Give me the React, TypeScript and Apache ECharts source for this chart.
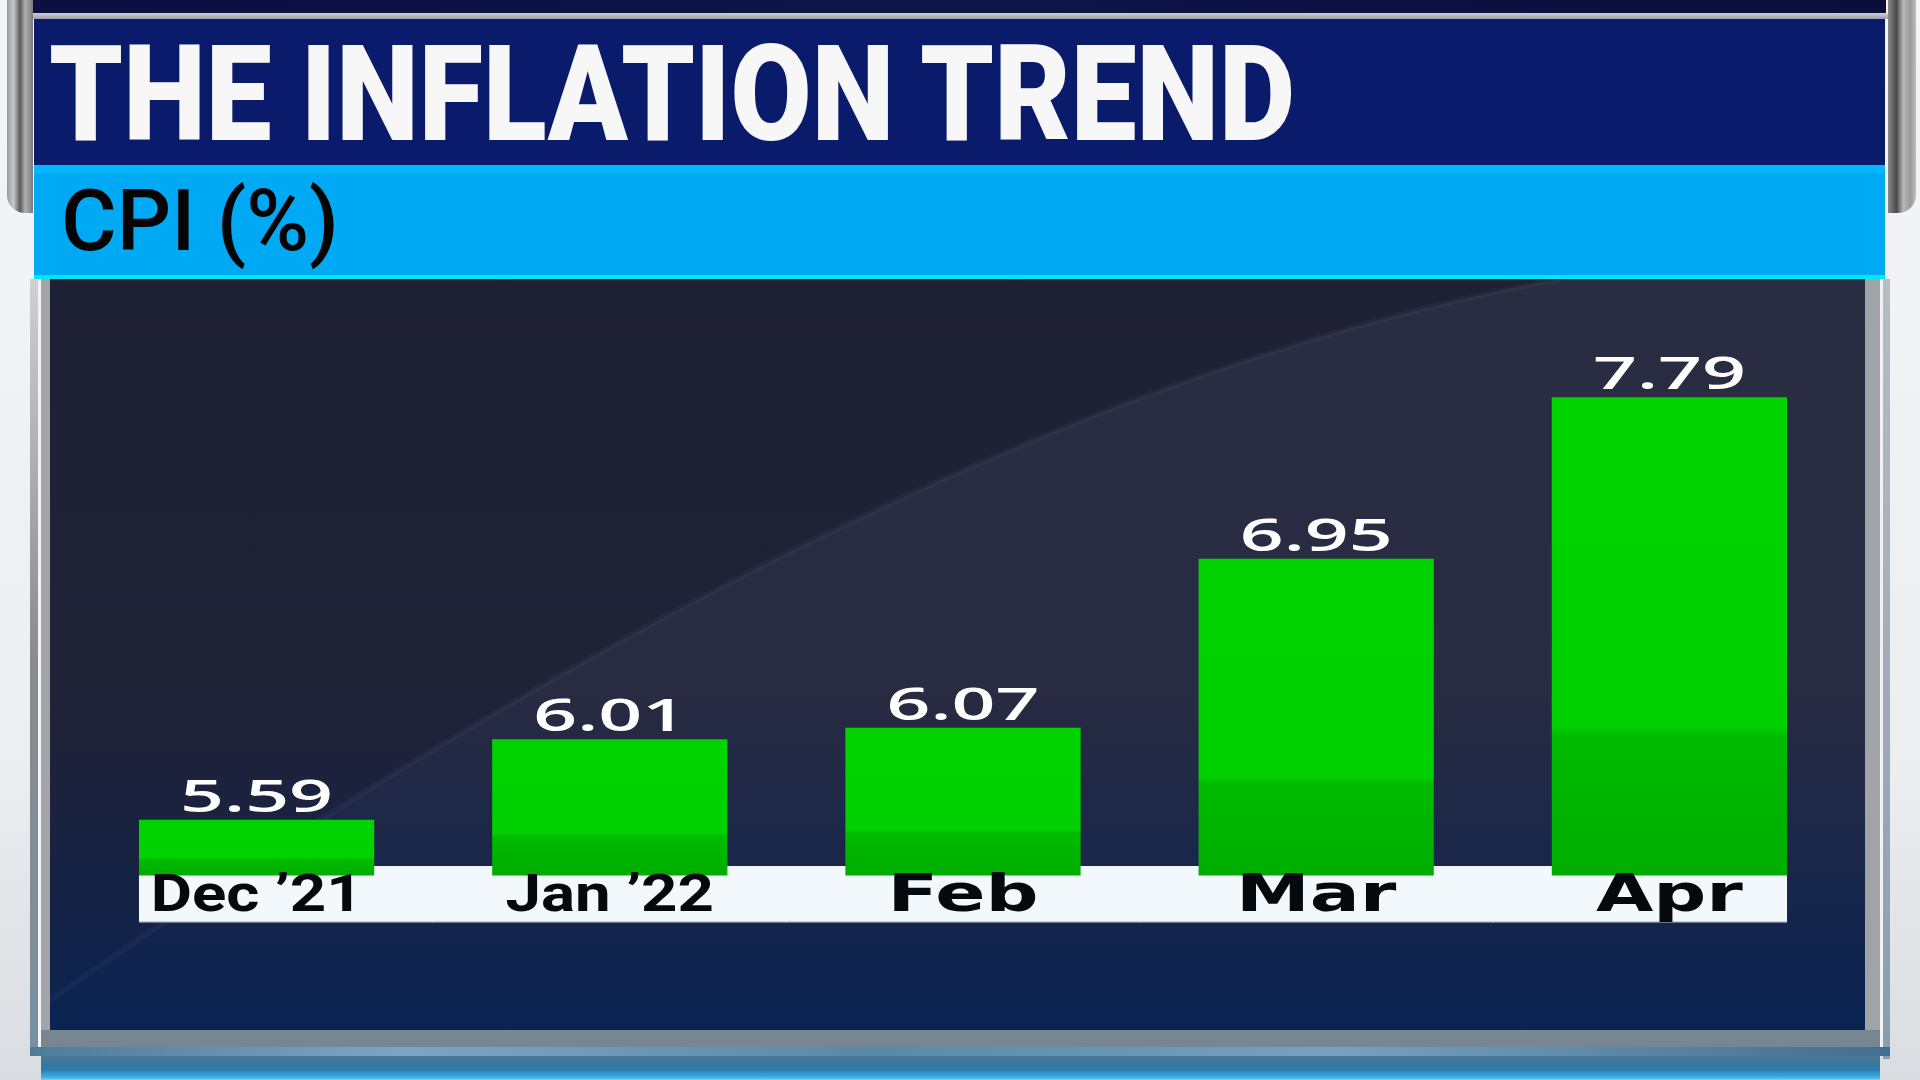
import React, { useEffect, useRef } from 'react';
import * as echarts from 'echarts';

// ---------- data ----------
const categories = ['Dec ’21', 'Jan ’22', 'Feb', 'Mar', 'Apr'];
const cpiValues = [5.59, 6.01, 6.07, 6.95, 7.79];
const valueLabels = ['5.59', '6.01', '6.07', '6.95', '7.79'];
const titleText = 'THE INFLATION TREND';
const subtitleText = 'CPI (%)';
const yMin = 5.3;
const yMax = 8;

// ---------- helpers ----------
function measure(text: string, font: string): number {
  const c = document.createElement('canvas').getContext('2d') as CanvasRenderingContext2D;
  c.font = font;
  return c.measureText(text).width;
}

const LG = (x0: number, y0: number, x1: number, y1: number, stops: [number, string][]) =>
  new echarts.graphic.LinearGradient(x0, y0, x1, y1, stops.map(([offset, color]) => ({ offset, color })));

function buildOption() {
  const valFont = { family: 'Open Sans', weight: 600, size: 45 };
  const wideFont = { family: 'DejaVu Sans', weight: 'bold', size: 51 };
  const condFont = { family: 'Roboto', weight: 'bold', size: 52 };
  const titleFont = { family: 'Roboto', weight: 900, size: 134 };
  const subFont = { family: 'Roboto', weight: 500, size: 86 };
  const fstr = (f: any) => `${f.weight} ${f.size}px "${f.family}"`;

  const kVal = 153 / measure('6.07', fstr(valFont));
  const kWide = 151 / measure('Feb', fstr(wideFont));
  const kCond = 212 / measure('Dec ’21', fstr(condFont));
  const kTitle = 1249 / measure(titleText, fstr(titleFont));
  const kSub = 278 / measure(subtitleText, fstr(subFont));

  const barFill = LG(0, 0, 0, 1, [
    [0, '#00d400'],
    [0.69, '#00d000'],
    [0.71, '#00bb00'],
    [1, '#00ad00'],
  ]);

  // decorative swoosh curve in the panel background
  const curve: number[][] = [];
  for (let i = 0; i <= 48; i++) {
    const t = i / 48;
    const x = (1 - t) * (1 - t) * 50 + 2 * (1 - t) * t * 915 + t * t * 1560;
    const y = (1 - t) * (1 - t) * 1000 + 2 * (1 - t) * t * 396 + t * t * 279;
    curve.push([x, y]);
  }

  const graphic: any[] = [
    { type: 'rect', z: 0, shape: { x: 0, y: 0, width: 1920, height: 1080 },
      style: { fill: LG(0, 0, 0, 1, [[0, '#f4f5f6'], [0.7, '#eceef0'], [1, '#d9dde1']]) } },
    { type: 'rect', z: 1, shape: { x: 33, y: 0, width: 1853, height: 14 },
      style: { fill: LG(0, 0, 1, 0, [[0, '#0a1040'], [0.5, '#0d1548'], [1, '#090e3a']]) } },
    { type: 'rect', z: 1, shape: { x: 31, y: 13, width: 1858, height: 6 },
      style: { fill: LG(0, 0, 0, 1, [[0, '#d0d0d8'], [1, '#9c9cac']]) } },
    { type: 'rect', z: 1, shape: { x: 34, y: 19, width: 1851, height: 146 }, style: { fill: '#0b1b6b' } },
    { type: 'rect', z: 1, shape: { x: 34, y: 165, width: 1851, height: 114 }, style: { fill: '#00a9f3' } },
    { type: 'rect', z: 1, shape: { x: 34, y: 165, width: 1851, height: 8 }, style: { fill: '#00b8ff' } },
    { type: 'rect', z: 1, shape: { x: 34, y: 275, width: 1851, height: 4 }, style: { fill: '#00e8ff' } },
    { type: 'rect', z: 1, shape: { x: 7, y: 0, width: 26, height: 213, r: [0, 0, 0, 18] },
      style: { fill: LG(0, 0, 1, 0, [[0, '#9a9a9a'], [0.25, '#c8c8c8'], [0.5, '#5a5a5a'], [0.7, '#b0b0b0'], [1, '#7a7a7a']]) } },
    { type: 'rect', z: 1, shape: { x: 1888, y: 0, width: 28, height: 213, r: [0, 0, 18, 0] },
      style: { fill: LG(0, 0, 1, 0, [[0, '#8a8a8a'], [0.3, '#4a4a4a'], [0.55, '#b8b8b8'], [0.8, '#9a9a9a'], [1, '#c0c0c0']]) } },
    { type: 'rect', z: 1, shape: { x: 30, y: 279, width: 8, height: 770 },
      style: { fill: LG(0, 0, 0, 1, [[0, '#d0d0d4'], [0.5, '#8a8a8e'], [1, '#7890a0']]) } },
    { type: 'rect', z: 1, shape: { x: 38, y: 279, width: 3, height: 770 }, style: { fill: '#f4f4f4' } },
    { type: 'rect', z: 1, shape: { x: 41, y: 279, width: 9, height: 760 }, style: { fill: '#a2a4a8' } },
    { type: 'rect', z: 1, shape: { x: 1865, y: 279, width: 15, height: 760 }, style: { fill: '#a0a4a8' } },
    { type: 'rect', z: 1, shape: { x: 1880, y: 279, width: 3, height: 770 }, style: { fill: '#f2f2f2' } },
    { type: 'rect', z: 1, shape: { x: 1883, y: 279, width: 7, height: 780 },
      style: { fill: LG(0, 0, 0, 1, [[0, '#b8bcc4'], [1, '#8a9cb0']]) } },
    // chart panel
    { type: 'rect', z: 2, shape: { x: 50, y: 279, width: 1815, height: 751 },
      style: { fill: LG(0, 0, 0, 1, [[0, '#2a2d42'], [0.55, '#282b41'], [0.8, '#18264b'], [1, '#0a2352']]) } },
    { type: 'polygon', z: 3, shape: { points: [[50, 279], [50, 1000], ...curve, [1560, 279]] },
      style: { fill: LG(0, 0, 0, 1, [[0, 'rgba(14,14,30,0.42)'], [0.6, 'rgba(14,14,30,0.28)'], [1, 'rgba(14,14,30,0.06)']]) } },
    { type: 'polyline', z: 3, shape: { points: curve }, style: { stroke: 'rgba(255,255,255,0.03)', lineWidth: 6, fill: null } },
    // bottom bands
    { type: 'rect', z: 2, shape: { x: 41, y: 1030, width: 1839, height: 17 }, style: { fill: '#768791' } },
    { type: 'rect', z: 2, shape: { x: 30, y: 1047, width: 1860, height: 9 },
      style: { fill: LG(0, 0, 1, 0, [[0, '#4d7b9a'], [0.2, '#7aa7c5'], [0.45, '#5a88a8'], [0.7, '#74a2c0'], [1, '#426f90']]) } },
    { type: 'rect', z: 2, shape: { x: 41, y: 1056, width: 1839, height: 24 },
      style: { fill: LG(0, 0, 0, 1, [[0, '#4a7896'], [0.55, '#2f78a8'], [0.9, '#36b4ec'], [1, '#8ad0ee']]) } },
    // title texts
    { type: 'text', z: 5, x: 49, y: 94, scaleX: kTitle,
      style: {
        text: titleText, fontFamily: titleFont.family, fontWeight: titleFont.weight, fontSize: titleFont.size,
        align: 'left', verticalAlign: 'middle', fill: '#f7f7f7',
      } },
    { type: 'text', z: 5, x: 61, y: 221, scaleX: kSub,
      style: {
        text: subtitleText, fontFamily: subFont.family, fontWeight: subFont.weight, fontSize: subFont.size,
        align: 'left', verticalAlign: 'middle', fill: '#040404',
      } },
  ];

  const n = categories.length;

  return {
    animation: false,
    backgroundColor: 'transparent',
    graphic,
    grid: { left: 80, right: 74, top: 357, bottom: 204.5, containLabel: false },
    xAxis: { type: 'category', data: categories, show: false },
    yAxis: { type: 'value', min: yMin, max: yMax, show: false },
    series: [
      {
        type: 'custom',
        z: 10,
        clip: false,
        encode: { x: 0, y: 1 },
        data: cpiValues.map((v, i) => [i, v]),
        renderItem: (params: any, api: any) => {
          const idx = api.value(0);
          const val = api.value(1);
          const base = api.coord([idx, yMin]);
          const top = api.coord([idx, val]);
          const band = api.size([1, 0])[0];
          const w = band * 0.666;
          const cx = top[0];
          const i = params.dataIndex;
          const stripL = i === 0 ? cx - w / 2 : cx - band / 2 - 0.5;
          const stripR = i === n - 1 ? cx + w / 2 : cx + band / 2 + 0.5;
          const label = categories[i];
          const condensed = label.indexOf(' ') >= 0;
          const cf = condensed ? condFont : wideFont;
          return {
            type: 'group',
            children: [
              { type: 'rect', shape: { x: stripL, y: base[1] - 9.5, width: stripR - stripL, height: 56 },
                style: { fill: '#f3f8fc' } },
              { type: 'rect', shape: { x: stripL, y: base[1] + 45.5, width: stripR - stripL, height: 1.5 },
                style: { fill: '#c8ccd4' } },
              { type: 'rect', shape: { x: cx - w / 2, y: top[1], width: w, height: base[1] - top[1] },
                style: { fill: barFill } },
              { type: 'text', x: cx, y: top[1] - 25.5, scaleX: kVal,
                style: { text: valueLabels[i], fill: '#ffffff', fontFamily: valFont.family, fontWeight: valFont.weight,
                  fontSize: valFont.size, align: 'center', verticalAlign: 'middle' } },
              { type: 'text', x: cx, y: base[1] + 18, scaleX: condensed ? kCond : kWide,
                style: { text: label, fill: '#05090e', fontFamily: cf.family, fontWeight: cf.weight,
                  fontSize: cf.size, align: 'center', verticalAlign: 'middle' } },
            ],
          };
        },
      },
    ],
  };
}

export default function App() {
  const ref = useRef<HTMLDivElement>(null);
  useEffect(() => {
    if (!ref.current) return;
    const chart = echarts.init(ref.current, null, { renderer: 'svg', width: 1920, height: 1080 });
    chart.setOption(buildOption() as any);
    return () => chart.dispose();
  }, []);
  return (
    <div
      ref={ref}
      style={{ position: 'fixed', left: 0, top: 0, width: 1920, height: 1080, overflow: 'hidden' }}
    />
  );
}
